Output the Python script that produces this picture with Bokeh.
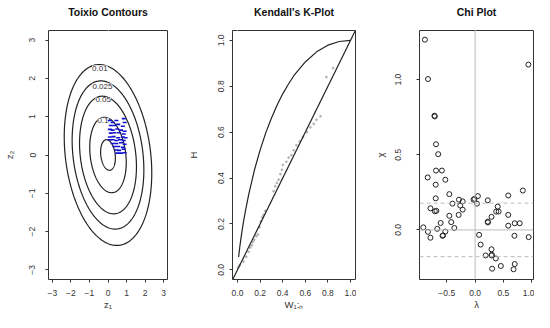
from bokeh.plotting import figure
from bokeh.layouts import row
from bokeh.models import (FixedTicker, Range1d, Span, Slope, NumeralTickFormatter,
                          LinearAxis)
from bokeh.core.properties import value
from bokeh.embed import file_html
from bokeh.resources import INLINE
import numpy as np

# ---------------- data ----------------
# Panel 1: Toixio contours (bivariate normal margins, read-off dependence)
contour_levels = [0.01, 0.025, 0.05, 0.1, 0.15]
contour_rho = -0.2
contour_label_text = ["0.01", "0.025", "0.05", "0.1"]
contour_label_x = [-0.44, -0.30, -0.26, -0.26]
contour_label_y = [2.27, 1.80, 1.44, 0.91]
sample_u = [0.10, 0.25, 0.45, 0.85, 0.90, 0.15, 0.35, 0.55, 0.80, 0.10, 0.25, 0.50,
            0.70, 0.90, 0.15, 0.35, 0.60, 0.85, 0.10, 0.30, 0.55, 0.80, 0.95, 0.10,
            0.25, 0.45, 0.65, 0.85, 0.25, 0.45, 0.70, 0.90, 0.35, 0.55, 0.80, 0.45,
            0.60, 0.85, 0.50, 0.70, 0.90]
sample_v = [0.90, 0.85, 0.90, 0.95, 0.85, 0.77, 0.77, 0.80, 0.75, 0.67, 0.65, 0.68,
            0.65, 0.62, 0.57, 0.58, 0.58, 0.55, 0.47, 0.48, 0.45, 0.47, 0.45, 0.40,
            0.40, 0.38, 0.40, 0.38, 0.30, 0.30, 0.32, 0.28, 0.22, 0.22, 0.20, 0.13,
            0.12, 0.15, 0.05, 0.05, 0.06]
p1_ticks = [-3, -2, -1, 0, 1, 2, 3]

# Panel 2: Kendall's K-plot
kcurve_w = [0.01, 0.02, 0.03, 0.05, 0.07, 0.1, 0.15, 0.2, 0.25, 0.3, 0.35, 0.4,
            0.45, 0.5, 0.6, 0.7, 0.8, 0.9, 1.0]
kcurve_h = [0.056, 0.098, 0.135, 0.200, 0.256, 0.330, 0.435, 0.522, 0.597, 0.661,
            0.717, 0.767, 0.809, 0.847, 0.906, 0.950, 0.979, 0.995, 1.0]
kplot_w = [0.005, 0.02, 0.053, 0.077, 0.098, 0.112, 0.127, 0.136, 0.148, 0.166,
           0.180, 0.195, 0.207, 0.219, 0.231, 0.246, 0.320, 0.334, 0.349, 0.364,
           0.379, 0.393, 0.402, 0.432, 0.453, 0.476, 0.497, 0.521, 0.550, 0.580,
           0.615, 0.645, 0.675, 0.698, 0.734, 0.787, 0.846]
kplot_h = [0.010, 0.020, 0.036, 0.057, 0.079, 0.097, 0.107, 0.121, 0.131, 0.146,
           0.154, 0.186, 0.211, 0.229, 0.240, 0.257, 0.343, 0.364, 0.379, 0.393,
           0.417, 0.436, 0.457, 0.471, 0.489, 0.500, 0.521, 0.543, 0.560, 0.579,
           0.600, 0.621, 0.636, 0.654, 0.669, 0.840, 0.879]
unit_ticks = [0.0, 0.2, 0.4, 0.6, 0.8, 1.0]

# Panel 3: Chi plot
chi_lambda = [-0.885, -0.830, -0.716, -0.711, -0.689, -0.650, -0.689, -0.585, -0.836,
              -0.525, -0.694, -0.454, -0.694, -0.284, -0.219, -0.399, -0.262, -0.219,
              -0.787, -0.710, -0.683, -0.454, -0.290, -0.607, -0.421, -0.366, -0.913,
              -0.831, -0.667, -0.525, -0.574, -0.565, -0.787, -0.027, -0.011, 0.049,
              0.033, 0.224, 0.399, 0.372, 0.415, 0.290, 0.224, 0.226, 0.585, 0.585,
              0.585, 0.842, 0.787, 0.699, 0.940, 0.945, 0.694, 0.071, 0.098, 0.290,
              0.186, 0.290, 0.366, 0.454, 0.301, 0.699, 0.678, 0.295]
chi_values = [1.266, 1.004, 0.760, 0.755, 0.570, 0.504, 0.395, 0.395, 0.349,
              0.334, 0.301, 0.238, 0.210, 0.201, 0.190, 0.175, 0.162, 0.135,
              0.144, 0.124, 0.127, 0.094, 0.100, 0.046, 0.052, 0.013, 0.017,
              -0.013, 0.007, -0.011, -0.039, -0.037, -0.052, 0.201, 0.207, 0.225,
              0.175, 0.197, 0.155, 0.122, 0.122, 0.087, 0.055, 0.050, 0.229, 0.100,
              0.028, 0.262, 0.044, 0.044, 1.100, -0.048, -0.039, -0.033, -0.098, -0.129,
              -0.170, -0.170, -0.190, -0.240, -0.258, -0.227, -0.262, -0.165]
chi_bound = 0.178
chi_xticks = [-0.5, 0.0, 0.5, 1.0]
chi_yticks = [0.0, 0.5, 1.0]

# ---------------- styling helpers ----------------
FONT = "Liberation Sans"
INK = "#333333"


def make_fig(title, xr, yr, bl, br, ylab_ls, ylab_as):
    p = figure(width=178, height=312, x_range=Range1d(*xr), y_range=Range1d(*yr),
               output_backend="svg", toolbar_location=None,
               min_border_left=bl, min_border_right=br,
               min_border_top=30, min_border_bottom=31)
    p.title.text = title
    p.title.align = "center"
    p.title.text_font = FONT
    p.title.text_font_style = "bold"
    p.title.text_font_size = "10.5px"
    p.title.text_color = "#111111"
    p.title.standoff = 0
    p.outline_line_color = INK
    p.outline_line_alpha = 1.0
    p.outline_line_width = 1
    p.xgrid.visible = False
    p.ygrid.visible = False
    p.background_fill_color = "white"
    p.border_fill_color = "white"
    xa, ya = p.below[0], p.left[0]
    for ax in (xa, ya):
        ax.axis_line_color = None
        ax.major_tick_out = 3
        ax.major_tick_in = 0
        ax.major_tick_line_color = INK
        ax.minor_tick_line_color = None
        ax.major_label_text_font = FONT
        ax.major_label_text_font_size = "8.5px"
        ax.major_label_text_color = INK
        ax.axis_label_text_font = FONT
        ax.axis_label_text_font_size = "9.5px"
        ax.axis_label_text_font_style = "normal"
        ax.axis_label_text_color = INK
    xa.major_label_standoff = 7
    xa.axis_label_standoff = 0
    ya.major_label_orientation = "vertical"
    ya.major_label_standoff = ylab_ls
    ya.axis_label_standoff = ylab_as
    # invisible spacer (white tick, no label text) between frame and title
    spacer = LinearAxis(ticker=FixedTicker(ticks=[0]), axis_line_color=None,
                        major_tick_out=13, major_tick_in=0, minor_tick_out=0,
                        minor_tick_in=0, major_label_standoff=0,
                        major_label_text_color=None,
                        major_tick_line_color="white", minor_tick_line_color=None)
    p.add_layout(spacer, "above")
    return p, xa, ya


minus_over = {-3: "−3", -2: "−2", -1: "−1", -0.5: "−0.5"}

# ---------------- panel 1 ----------------
p1, x1, y1 = make_fig("Toixio Contours", (-3.21, 3.21), (-3.25, 3.25), 46, 11, 10, 12)
t = np.linspace(0, 2 * np.pi, 240)
cxs, cys = [], []
s = np.sqrt(1 - contour_rho ** 2)
for lev in contour_levels:
    r = np.sqrt(-2 * np.log(lev * 2 * np.pi * s))
    cxs.append(list(r * np.cos(t)))
    cys.append(list(r * (contour_rho * np.cos(t) + s * np.sin(t))))
p1.multi_line(cxs, cys, line_color="#222222", line_width=1.2)
p1.text(contour_label_x, contour_label_y, text=contour_label_text,
        text_font=value(FONT), text_font_size="8px", text_color=INK,
        text_align="center", text_baseline="middle",
        background_fill_color="white")
p1.scatter(sample_u, sample_v, marker="dash", size=4, line_color="#1010d0",
           line_width=1.6)
x1.ticker = FixedTicker(ticks=p1_ticks)
y1.ticker = FixedTicker(ticks=p1_ticks)
x1.major_label_overrides = minus_over
y1.major_label_overrides = minus_over
x1.axis_label = "z₁"
y1.axis_label = "z₂"

# ---------------- panel 2 ----------------
p2, x2, y2 = make_fig("Kendall's K-Plot", (-0.044, 1.044), (-0.042, 1.043), 54, 1, 5, 17)
p2.add_layout(Slope(gradient=1, y_intercept=0, line_color="#222222", line_width=1.2))
p2.line(kcurve_w, kcurve_h, line_color="#222222", line_width=1.2)
p2.scatter(kplot_w, kplot_h, size=2.2, fill_color="#b0b0b0", line_color="#b0b0b0",
           line_width=0.5)
for ax in (x2, y2):
    ax.ticker = FixedTicker(ticks=unit_ticks)
    ax.formatter = NumeralTickFormatter(format="0.0")
x2.axis_label = "W₁:ₙ"
y2.axis_label = "H"

# ---------------- panel 3 ----------------
p3, x3, y3 = make_fig("Chi Plot", (-0.98, 1.03), (-0.33, 1.327), 63, 1, 15, 7)
for loc, dim, dash in [(0, "width", "solid"), (0, "height", "solid"),
                       (chi_bound, "width", "4 3"), (-chi_bound, "width", "4 3")]:
    p3.add_layout(Span(location=loc, dimension=dim, line_color="#bbbbbb",
                       line_width=1, line_dash=dash))
p3.scatter(chi_lambda, chi_values, size=5, fill_color=None, line_color="#222222",
           line_width=1)
x3.ticker = FixedTicker(ticks=chi_xticks)
y3.ticker = FixedTicker(ticks=chi_yticks)
for ax in (x3, y3):
    ax.formatter = NumeralTickFormatter(format="0.0")
    ax.major_label_overrides = {-0.5: "−0.5"}
x3.axis_label = "λ"
y3.axis_label = "χ"

layout = row(p1, p2, p3, spacing=0)
open("out.html", "w").write(file_html(layout, INLINE))
